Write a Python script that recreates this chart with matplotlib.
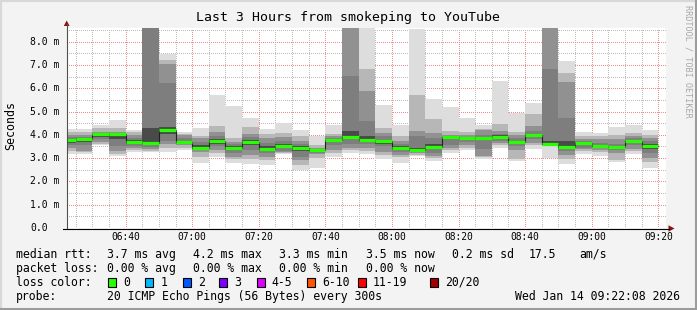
import matplotlib
matplotlib.use("Agg")
import matplotlib.pyplot as plt
from matplotlib.patches import Rectangle, Polygon
from matplotlib.lines import Line2D

W, H, DPI = 697, 310, 100
MONO = "DejaVu Sans Mono"
plt.rcParams["font.family"] = [MONO, "DejaVu Sans"]

# ---------------- data ----------------
title = "Last 3 Hours from smokeping to YouTube"
y_label = "Seconds"
side_note = "RRDTOOL / TOBI OETIKER"

# bar start times in minutes after 06:00 (06:20 ... 09:15), 5 minute steps
bar_minutes = list(range(20, 200, 5))
bar_width_min = 5
x_view = (22.4, 202.4)
y_view = (0.0, 8.584)

x_tick_minutes = [40, 60, 80, 100, 120, 140, 160, 180, 200]
x_tick_labels = ["06:40", "07:00", "07:20", "07:40", "08:00", "08:20", "08:40", "09:00", "09:20"]
x_minor_minutes = list(range(25, 205, 5))
y_ticks = [0, 1, 2, 3, 4, 5, 6, 7, 8]
y_tick_labels = ["0.0", "1.0 m", "2.0 m", "3.0 m", "4.0 m", "5.0 m", "6.0 m", "7.0 m", "8.0 m"]
y_minor = [0.5, 1.5, 2.5, 3.5, 4.5, 5.5, 6.5, 7.5, 8.5]

median_rtt = [3.78, 3.81, 4.02, 4.02, 3.69, 3.66, 4.19, 3.68, 3.43, 3.72,
              3.43, 3.69, 3.39, 3.53, 3.42, 3.33, 3.76, 3.89, 3.79, 3.72,
              3.42, 3.35, 3.49, 3.89, 3.85, 3.86, 3.92, 3.68, 3.99, 3.62,
              3.49, 3.65, 3.53, 3.46, 3.75, 3.52]

# smoke layers (outermost -> innermost): low edges and high edges per bar
smoke_low = [
    (3.19, 3.30, 3.45, 3.55, 3.66), (3.19, 3.25, 3.30, 3.55, 3.70),
    (3.55, 3.60, 3.68, 3.80, 3.92), (3.09, 3.18, 3.30, 3.50, 3.80),
    (3.25, 3.33, 3.42, 3.52, 3.60), (3.25, 3.30, 3.38, 3.48, 3.55),
    (3.28, 3.45, 3.60, 3.75, 4.05), (3.35, 3.45, 3.55, 3.62, 3.65),
    (2.80, 3.05, 3.25, 3.35, 3.40), (3.06, 3.20, 3.35, 3.50, 3.62),
    (2.80, 2.95, 3.05, 3.20, 3.35), (2.73, 2.95, 3.15, 3.35, 3.55),
    (2.69, 2.90, 3.05, 3.20, 3.32), (3.18, 3.22, 3.26, 3.30, 3.45),
    (2.49, 2.70, 2.90, 3.05, 3.30), (2.59, 3.00, 3.18, 3.22, 3.28),
    (3.06, 3.20, 3.35, 3.55, 3.68), (3.23, 3.35, 3.45, 3.60, 3.80),
    (3.16, 3.30, 3.45, 3.60, 3.70), (2.95, 3.15, 3.25, 3.50, 3.62),
    (2.80, 3.05, 3.15, 3.25, 3.35), (3.09, 3.15, 3.22, 3.28, 3.32),
    (2.88, 3.00, 3.09, 3.20, 3.40), (3.23, 3.35, 3.45, 3.55, 3.80),
    (3.35, 3.45, 3.55, 3.70, 3.80), (2.95, 3.05, 3.10, 3.40, 3.80),
    (3.45, 3.55, 3.65, 3.75, 3.88), (2.88, 2.95, 3.35, 3.50, 3.62),
    (3.40, 3.55, 3.66, 3.80, 3.92), (3.02, 3.50, 3.55, 3.58, 3.60),
    (2.73, 2.95, 3.15, 3.30, 3.42), (3.16, 3.30, 3.38, 3.45, 3.55),
    (3.09, 3.25, 3.35, 3.42, 3.48), (2.83, 2.90, 3.20, 3.35, 3.42),
    (3.16, 3.30, 3.40, 3.55, 3.68), (2.59, 2.85, 3.00, 3.20, 3.40),
]
smoke_high = [
    (4.23, 4.12, 4.00, 3.92, 3.84), (4.27, 4.12, 4.00, 3.92, 3.86),
    (4.44, 4.30, 4.12, 4.08, 4.05), (4.62, 4.30, 4.12, 4.06, 4.04),
    (4.20, 4.10, 3.98, 3.88, 3.76), (9.50, 9.50, 9.50, 9.50, 4.29),
    (7.45, 7.22, 7.05, 6.24, 4.35), (4.12, 4.05, 3.98, 3.85, 3.75),
    (4.30, 3.95, 3.85, 3.70, 3.55), (5.71, 4.38, 4.10, 3.95, 3.82),
    (5.24, 3.85, 3.70, 3.60, 3.52), (4.74, 4.35, 4.05, 3.90, 3.78),
    (4.26, 4.05, 3.85, 3.65, 3.50), (4.49, 4.09, 3.90, 3.75, 3.60),
    (4.21, 3.95, 3.75, 3.60, 3.50), (3.95, 3.55, 3.45, 3.40, 3.37),
    (4.43, 4.05, 3.95, 3.88, 3.82), (9.50, 9.50, 9.50, 6.52, 4.15),
    (9.50, 6.81, 5.88, 4.59, 3.95), (5.28, 4.31, 4.06, 3.95, 3.78),
    (4.42, 3.95, 3.75, 3.60, 3.50), (8.53, 5.71, 4.16, 3.95, 3.45),
    (5.55, 4.66, 4.09, 3.85, 3.62), (5.19, 4.16, 4.00, 3.95, 3.92),
    (4.74, 4.10, 4.00, 3.92, 3.88), (4.42, 4.25, 4.20, 4.00, 3.92),
    (6.31, 4.45, 4.15, 4.02, 3.98), (4.92, 4.12, 3.98, 3.85, 3.75),
    (5.38, 4.88, 4.38, 4.15, 4.05), (9.50, 9.50, 9.50, 6.84, 3.75),
    (7.17, 6.67, 6.27, 4.74, 3.73), (4.12, 3.95, 3.80, 3.72, 3.68),
    (4.06, 3.95, 3.80, 3.65, 3.57), (4.35, 4.00, 3.80, 3.60, 3.50),
    (4.43, 4.09, 3.95, 3.85, 3.78), (4.21, 4.00, 3.85, 3.72, 3.60),
]
smoke_colors = ["#dddddd", "#b7b7b7", "#919191", "#7e7e7e", "#4a4a4a"]
median_color = "#26ff00"

loss_labels = ["0", "1", "2", "3", "4-5", "6-10", "11-19", "20/20"]
loss_colors = ["#26ff00", "#00b8ff", "#0059ff", "#7e00ff", "#dd00ff", "#ff5500", "#ff0000", "#a10000"]

stats_rtt = ["3.7 ms avg", "4.2 ms max", "3.3 ms min", "3.5 ms now", "0.2 ms sd", "17.5", "am/s"]
stats_loss = ["0.00 % avg", "0.00 % max", "0.00 % min", "0.00 % now"]
probe_text = "20 ICMP Echo Pings (56 Bytes) every 300s"
stamp_text = "Wed Jan 14 09:22:08 2026"

# ---------------- figure ----------------
fig = plt.figure(figsize=(W / DPI, H / DPI), dpi=DPI, facecolor="#f3f3f3")

ax = fig.add_axes([67 / W, (H - 228) / H, (666.3 - 67) / W, 200 / H])
ax.set_facecolor("white")
ax.set_xlim(*x_view)
ax.set_ylim(*y_view)
for s in ax.spines.values():
    s.set_visible(False)
ax.set_xticks(x_tick_minutes)
ax.set_xticks(x_minor_minutes, minor=True)
ax.set_yticks(y_ticks)
ax.set_yticks(y_minor, minor=True)
ax.tick_params(which="both", length=0, labelbottom=False, labelleft=False)
ax.set_axisbelow(True)
ax.grid(which="minor", color="#bdbdbd", linestyle=(0, (1, 2)), linewidth=0.72,
        antialiased=False)
ax.grid(which="major", color="#ee8c8c", linestyle=(0, (1, 2)), linewidth=0.72,
        antialiased=False)

n_layers = len(smoke_colors)
for j in range(n_layers):
    lows = [lo[j] for lo in smoke_low]
    highs = [hi[j] for hi in smoke_high]
    ax.bar(bar_minutes, [h - l for h, l in zip(highs, lows)], bottom=lows,
           width=bar_width_min, align="edge", color=smoke_colors[j],
           linewidth=0, zorder=2)

ends = [m + bar_width_min for m in bar_minutes]
ax.step(bar_minutes + [ends[-1]], median_rtt + [median_rtt[-1]], where="post",
        color="#202020", linewidth=0.8, zorder=3)
ax.hlines(median_rtt, bar_minutes, ends, colors=median_color, linewidth=2.3, zorder=4)

# tick labels
for m, lab in zip(x_tick_minutes, x_tick_labels):
    ax.text(m, -0.0465, lab, transform=ax.get_xaxis_transform(), ha="center",
            va="center", fontsize=6.9, family=MONO, clip_on=False)
for v, lab in zip(y_ticks, y_tick_labels):
    ax.text(-0.0617, v, lab, transform=ax.get_yaxis_transform(), ha="left",
            va="center", fontsize=7.0, family=MONO, clip_on=False)

# ---------------- overlay in pixel coordinates ----------------
ov = fig.add_axes([0, 0, 1, 1], zorder=10)
ov.set_xlim(0, W)
ov.set_ylim(H, 0)
ov.axis("off")
ov.patch.set_alpha(0)

# frame
ov.add_line(Line2D([0, W], [0.8, 0.8], color="#d8d8d8", linewidth=1.6))
ov.add_line(Line2D([0.8, 0.8], [0, H], color="#d8d8d8", linewidth=1.6))
ov.add_line(Line2D([0, W], [H - 1.2, H - 1.2], color="#9c9c9c", linewidth=2.2))
ov.add_line(Line2D([W - 1.2, W - 1.2], [0, H], color="#9c9c9c", linewidth=2.2))

# axes lines + arrows
ov.add_line(Line2D([66.7, 66.7], [228.5, 24], color="#505050", linewidth=0.8))
ov.add_patch(Polygon([(63.8, 26), (69.6, 26), (66.7, 20.5)], closed=True, color="#8b1010", lw=0))
ov.add_line(Line2D([63, 669], [228.5, 228.5], color="black", linewidth=0.8))
ov.add_patch(Polygon([(668.5, 225.3), (668.5, 231.7), (674.5, 228.5)], closed=True, color="#8b1010", lw=0))

ov.text(348, 18, title, ha="center", va="center", fontsize=9.5, family=MONO, color="black")
ov.text(10.5, 126, y_label, ha="center", va="center", rotation=90, fontsize=8.4, family=MONO)
ov.text(688, 5, side_note, ha="center", va="top", rotation=270, fontsize=6.1,
        family=MONO, color="#a8a8a8")

fs = 8.3
y1, y2, y3, y4 = 254.3, 268.3, 282.3, 296.3
ov.text(16.3, y1, "median rtt:", ha="left", va="center", fontsize=fs, family=MONO)
for x, s in zip([107.3, 193.3, 279.3, 366.0, 451.7, 529, 579], stats_rtt):
    ov.text(x, y1, s, ha="left", va="center", fontsize=fs, family=MONO)
ov.text(16.3, y2, "packet loss:", ha="left", va="center", fontsize=fs, family=MONO)
for x, s in zip([107.3, 193.3, 279.3, 366.0], stats_loss):
    ov.text(x, y2, s, ha="left", va="center", fontsize=fs, family=MONO)
ov.text(16.3, y3, "loss color:", ha="left", va="center", fontsize=fs, family=MONO)
for x, lab, col in zip([108.3, 145.3, 182.7, 219.3, 256.7, 307.3, 358.0, 430.0],
                       loss_labels, loss_colors):
    ov.add_patch(Rectangle((x, y3 - 4.5), 8, 9, facecolor=col, edgecolor="black", linewidth=0.8))
    ov.text(x + 15, y3, lab, ha="left", va="center", fontsize=fs, family=MONO)
ov.text(16.3, y4, "probe:", ha="left", va="center", fontsize=fs, family=MONO)
ov.text(107.3, y4, probe_text, ha="left", va="center", fontsize=fs, family=MONO)
ov.text(680, y4, stamp_text, ha="right", va="center", fontsize=fs, family=MONO)

fig.savefig("out.png", dpi=DPI, facecolor=fig.get_facecolor())
